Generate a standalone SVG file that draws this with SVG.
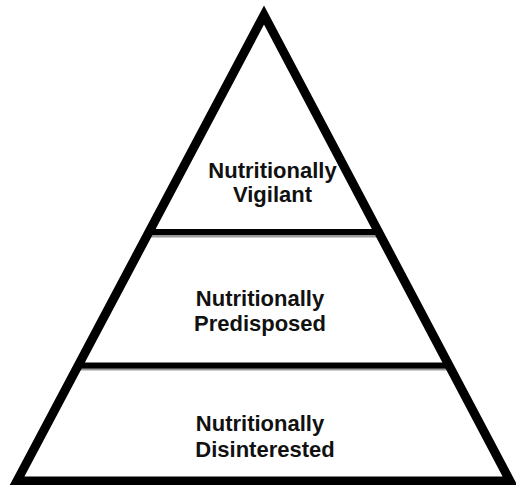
<svg xmlns="http://www.w3.org/2000/svg" width="516" height="485" viewBox="0 0 516 485">
<style>
.lbl{font-family:"Liberation Sans",Arial,sans-serif;font-weight:bold;font-size:22px;fill:#111;text-anchor:middle}
.div{stroke:#000;stroke-width:6}
.sh{stroke:#999;stroke-width:3}
</style>
<rect width="516" height="485" fill="#fff"/>
<g id="connectors">
<line class="sh" x1="147" y1="236" x2="381" y2="236"/>
<line class="div" x1="147" y1="232" x2="381" y2="232"/>
<line class="sh" x1="78" y1="369" x2="450" y2="369"/>
<line class="div" x1="78" y1="365.5" x2="450" y2="365.5"/>
</g>
<g id="triangle">
<polygon points="264,15 510,481 17,481" fill="none" stroke="#000" stroke-width="9" stroke-linejoin="miter"/>
</g>
<g id="vigilant">
<text class="lbl" x="272.5" y="178">Nutritionally</text>
<text class="lbl" x="272.5" y="202">Vigilant</text>
</g>
<g id="predisposed">
<text class="lbl" x="260" y="306">Nutritionally</text>
<text class="lbl" x="260" y="331">Predisposed</text>
</g>
<g id="disinterested">
<text class="lbl" x="260" y="431">Nutritionally</text>
<text class="lbl" x="265" y="457">Disinterested</text>
</g>
</svg>
